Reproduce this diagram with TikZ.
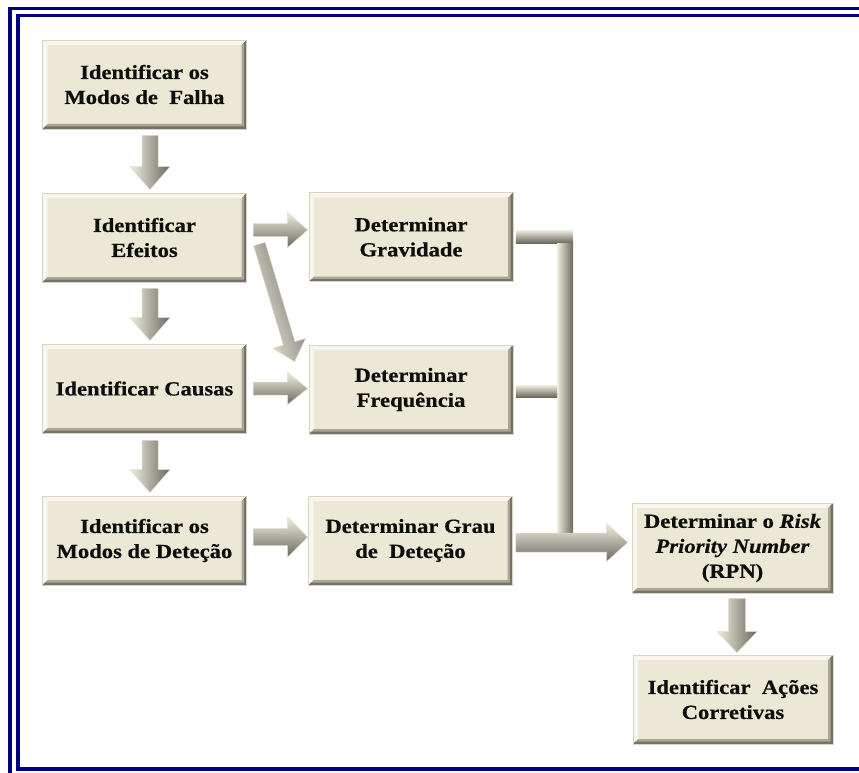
\documentclass[tikz,border=0pt]{standalone}
\usepackage{fontspec}
\setmainfont{Liberation Serif}[FakeStretch=1.13,
  BoldFeatures={FakeBold=0.6}, BoldItalicFeatures={FakeBold=0.6}]
\usetikzlibrary{calc}

\definecolor{framecol}{HTML}{000080}
\definecolor{boxfill}{HTML}{ECE8D6}
\definecolor{boxline}{HTML}{D9D5C1}
\definecolor{bevlight}{HTML}{F8F6EE}
\definecolor{bevmid}{HTML}{A9A696}
\definecolor{bevdark}{HTML}{74726A}
\definecolor{arrlight}{HTML}{F1EEDF}
\definecolor{arrmid}{HTML}{CFCCBA}
\definecolor{arrdark}{HTML}{6A6960}
\definecolor{txt}{HTML}{0E0E0E}

% block arrow: [style]{start}{tip}{half shaft}{half head}{head length}
\newcommand\blockarrow[6][]{%
  \coordinate (ba-h) at ($(#3)!#6!(#2)$);
  \path[#1] ($(#2)!#4!90:(#3)$) -- ($(ba-h)!#4!-90:(#2)$)
    -- ($(ba-h)!#5!-90:(#2)$) -- (#3) -- ($(ba-h)!#5!90:(#2)$)
    -- ($(ba-h)!#4!90:(#2)$) -- ($(#2)!#4!-90:(#3)$) -- cycle;
}

\tikzset{
  stepbox/.style={
    draw=boxline, line width=0.8pt, fill=boxfill,
    minimum width=204pt, minimum height=89pt, inner sep=0pt,
    align=center, text=txt,
    font=\fontsize{20}{25}\selectfont\bfseries,
    path picture={
      \fill[bevlight] (path picture bounding box.south west)
        -- (path picture bounding box.north west)
        -- (path picture bounding box.north east)
        -- ([xshift=-5pt,yshift=-5pt]path picture bounding box.north east)
        -- ([xshift=5pt,yshift=-5pt]path picture bounding box.north west)
        -- ([xshift=5pt,yshift=5pt]path picture bounding box.south west) -- cycle;
      \fill[bevmid] (path picture bounding box.south west)
        -- (path picture bounding box.south east)
        -- (path picture bounding box.north east)
        -- ([xshift=-5pt,yshift=-5pt]path picture bounding box.north east)
        -- ([xshift=-5pt,yshift=5pt]path picture bounding box.south east)
        -- ([xshift=5pt,yshift=5pt]path picture bounding box.south west) -- cycle;
      \fill[bevdark] (path picture bounding box.south west)
        -- (path picture bounding box.south east)
        -- (path picture bounding box.north east)
        -- ([xshift=-2.5pt,yshift=-2.5pt]path picture bounding box.north east)
        -- ([xshift=-2.5pt,yshift=2.5pt]path picture bounding box.south east)
        -- ([xshift=2.5pt,yshift=2.5pt]path picture bounding box.south west) -- cycle;
    }},
  varrow/.style={left color=arrlight, middle color=arrmid, right color=arrdark,
    draw=arrmid!70!white, line width=0.5pt},
  harrow/.style={top color=arrlight, middle color=arrmid, bottom color=arrdark,
    draw=arrmid!70!white, line width=0.5pt},
  darrow/.style={left color=arrlight, middle color=arrmid, right color=arrdark,
    shading angle=109, draw=arrmid!70!white, line width=0.5pt},
  vbar/.style={left color=arrlight, middle color=arrmid, right color=arrdark},
  hbar/.style={top color=arrlight, middle color=arrmid, bottom color=arrdark},
  framebar/.style={fill=framecol}
}

\begin{document}
\begin{tikzpicture}[x=1pt,y=-1pt]
\useasboundingbox (0,0) rectangle (859,773);
\fill[white] (0,0) rectangle (859,773);

% double frame
\fill[framebar] (8,7) rectangle (859,10.5);
\fill[framebar] (8,7) rectangle (12,773);
\fill[framebar] (16,14) rectangle (859,17.5);
\fill[framebar] (16,14) rectangle (20,771);
\fill[framebar] (16,767) rectangle (859,771);

% steps
\node[stepbox] (m1) at (144.5,84.5) {Identificar os\\Modos de~ Falha};
\node[stepbox] (m2) at (144.5,237.5) {Identificar\\Efeitos};
\node[stepbox] (m3) at (144.5,388.5) {Identificar Causas};
\node[stepbox] (m4) at (144.5,540.5) {Identificar os\\Modos de Deteção};
\node[stepbox] (d1) at (411,237) {Determinar\\Gravidade};
\node[stepbox] (d2) at (411,389.5) {Determinar\\Frequência};
\node[stepbox] (d3) at (410.5,540.5) {Determinar Grau\\de~ Deteção};
\node[stepbox, minimum width=201pt, minimum height=90pt] (rpn) at (732.5,548)
  {Determinar o \textit{Risk}\\\textit{Priority Number}\\(RPN)};
\node[stepbox, minimum width=200pt] (act) at (733,699.5)
  {Identificar~ Ações\\Corretivas};

% arrow end points
\coordinate (a1s) at ([xshift=5.5pt,yshift=-6pt]m1.south);
\coordinate (a1t) at ([xshift=5.5pt,yshift=3pt]m2.north);
\coordinate (a2s) at ([xshift=5.5pt,yshift=-6pt]m2.south);
\coordinate (a2t) at ([xshift=5.5pt,yshift=3pt]m3.north);
\coordinate (a3s) at ([xshift=5.5pt,yshift=-7pt]m3.south);
\coordinate (a3t) at ([xshift=5.5pt,yshift=3pt]m4.north);
\coordinate (a4s) at ([xshift=4.5pt,yshift=-5pt]rpn.south);
\coordinate (a4t) at ([xshift=4pt,yshift=2pt]act.north);
\coordinate (h1s) at ([xshift=6.5pt,yshift=7.5pt]m2.east);
\coordinate (h1t) at ([xshift=-1pt,yshift=7pt]d1.west);
\coordinate (h2s) at ([xshift=6.5pt]m3.east);
\coordinate (h2t) at ([xshift=-1pt,yshift=1pt]d2.west);
\coordinate (h3s) at ([xshift=6.5pt,yshift=3.5pt]m4.east);
\coordinate (h3t) at ([xshift=-0.5pt,yshift=3.5pt]d3.west);
\coordinate (g1s) at ([xshift=12.5pt,yshift=-6.5pt]m2.east);
\coordinate (g1t) at ([xshift=-14pt,yshift=-17pt]d2.north west);
\coordinate (rs) at ([xshift=3pt,yshift=-2pt]d3.east);
\coordinate (rt) at ([xshift=-4pt,yshift=5.5pt]rpn.west);
\coordinate (jtop) at (573,243);
\coordinate (jmid) at (557,243);
\coordinate (jbot) at (573,533);
\coordinate (jfreq) at (557,397);

% vertical arrows
\blockarrow[varrow]{a1s}{a1t}{8pt}{20pt}{23pt}
\blockarrow[varrow]{a2s}{a2t}{8pt}{20pt}{23pt}
\blockarrow[varrow]{a3s}{a3t}{8pt}{20pt}{23pt}
\blockarrow[varrow]{a4s}{a4t}{8.5pt}{20pt}{21pt}

% horizontal arrows
\blockarrow[harrow]{h1s}{h1t}{6.5pt}{17.5pt}{20pt}
\blockarrow[harrow]{h2s}{h2t}{6.5pt}{16pt}{20pt}
\blockarrow[harrow]{h3s}{h3t}{8.5pt}{20pt}{20pt}

% diagonal arrow from effects to frequency
\blockarrow[darrow]{g1s}{g1t}{6pt}{17pt}{19pt}

% collecting bracket towards the RPN
\shade[hbar] ([xshift=2.5pt,yshift=7pt]d1.east) rectangle (jtop);
\shade[vbar] (jmid) rectangle (jbot);
\shade[hbar] ([xshift=2.5pt,yshift=4.5pt]d2.east) rectangle (jfreq);
\blockarrow[harrow]{rs}{rt}{9.5pt}{19pt}{21pt}
\end{tikzpicture}
\end{document}
